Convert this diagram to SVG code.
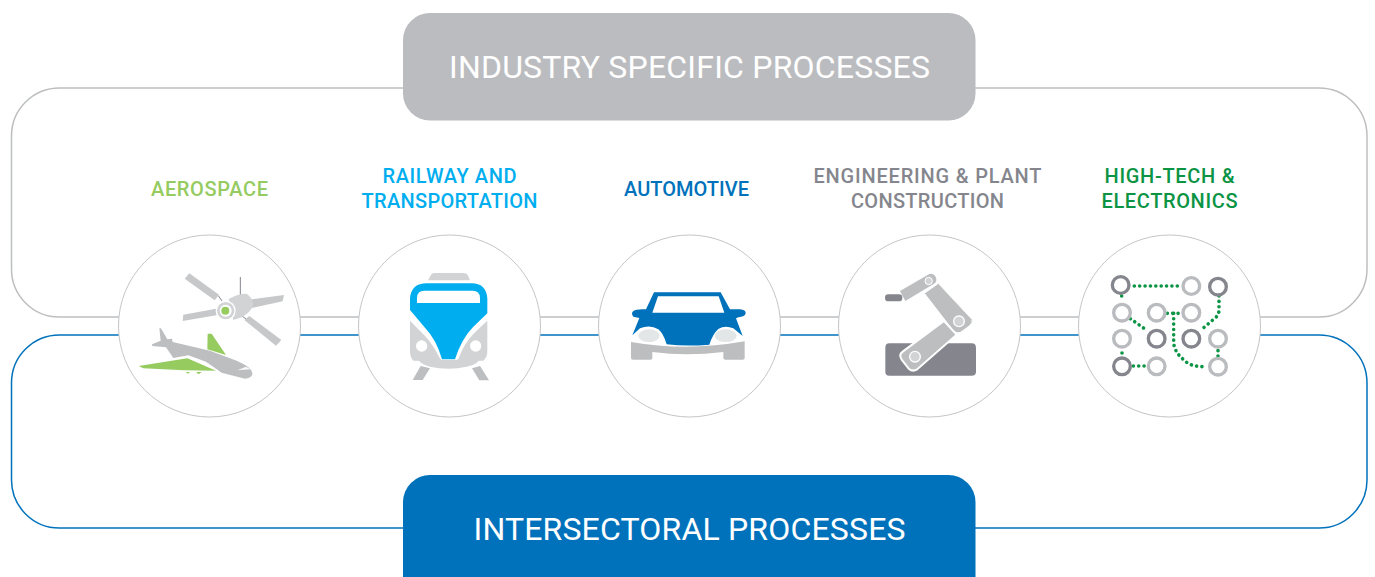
<svg xmlns="http://www.w3.org/2000/svg" width="1375" height="577" viewBox="0 0 1375 577">
<style>
.lbl{font-family:"Roboto","Liberation Sans",sans-serif;font-size:20px;text-anchor:middle;font-weight:500}
.ban{font-family:"Roboto","Liberation Sans",sans-serif;font-size:32px;fill:#fff;text-anchor:middle}
.ring{fill:#fff;stroke:#c4c5c7;stroke-width:1}
.lg{fill:#bcbec0}.pg{fill:#d1d3d4}.sp{fill:#c6c8ca}.dg{fill:#85868d}.gr{fill:#95cb5f}
.o1{fill:#fff;stroke:#b9bbbe;stroke-width:10}
.o2{fill:#fff;stroke:#85868d;stroke-width:10}
.dot{fill:none;stroke:#0b9444;stroke-width:10.800;stroke-linecap:round;stroke-dasharray:.1 16}
</style>
<rect width="1375" height="577" fill="#fff"/>
<g id="connectors" fill="none" stroke-width="1.5">
<rect x="11.500" y="88" width="1355.500" height="229" rx="48" stroke="#bcbec0"/>
<rect x="11.500" y="335" width="1355.500" height="193" rx="48" stroke="#0072bc"/>
</g>
<g id="banner-industry">
<rect x="403" y="13" width="572.500" height="107.500" rx="27" fill="#bbbcbf"/>
<text class="ban" x="689.500" y="77.500" textLength="481" lengthAdjust="spacing">INDUSTRY SPECIFIC PROCESSES</text>
</g>
<g id="banner-intersectoral">
<rect x="403" y="475" width="572.500" height="130" rx="27" fill="#0072bc"/>
<text class="ban" x="689.500" y="539.500" textLength="432" lengthAdjust="spacing">INTERSECTORAL PROCESSES</text>
</g>
<g id="aerospace">
<text class="lbl" x="209.500" y="195.500" fill="#95cb5f" textLength="117" lengthAdjust="spacing">AEROSPACE</text>
<circle class="ring" cx="209.500" cy="326" r="91"/>
<g transform="translate(110 230) scale(.33333)">
<path d="M391 141V196" stroke="#85868d" stroke-width="3" fill="none"/>
<path d="M325 197L336 213M388 228L412 225M388 252L408 267" stroke="#85868d" stroke-width="3" fill="none"/>
<path class="sp" d="M224 146L238 130L327 194L314 211Z"/>
<path class="sp" d="M408 210L522 195L518 214L412 237Z"/>
<path class="sp" d="M403 270L418 258L514 330L498 347Z"/>
<path class="sp" d="M220 254L318 236L323 255L218 273Z"/>
<path class="pg" d="M356 207Q385 190 410 191Q430 205 429 226Q425 245 395 262L370 270Z"/>
<circle cx="347" cy="242" r="30" fill="#fff"/>
<circle cx="347" cy="242" r="22" fill="#fff" stroke="#d1d3d4" stroke-width="8"/>
<circle class="gr" cx="346" cy="242" r="12"/>
<path class="gr" d="M293 311H305L348 375L292 358Z"/>
<path class="lg" d="M148 295L153 295L172 328L186 326L188 336L300 362L380 392Q408 405 415 412Q428 422 427 434Q422 445 405 446L335 428L288 395L235 376L190 384L168 352L127 348L126 343L152 332Z"/>
<path class="gr" d="M86 408L232 385L318 422L222 421L100 415Z"/>
<path class="gr" d="M227 426H240L234 431ZM258 426H275L266 433Z"/>
<path d="M382 421L422 418L408 410Z" fill="#fff" opacity=".9"/>
</g>
</g>
<g id="railway">
<text class="lbl" x="449.500" y="183" fill="#00aeef" textLength="134" lengthAdjust="spacing">RAILWAY AND</text>
<text class="lbl" x="449.500" y="208" fill="#00aeef" textLength="176" lengthAdjust="spacing">TRANSPORTATION</text>
<circle class="ring" cx="449.500" cy="326" r="91"/>
<g transform="translate(350 230) scale(.33333)">
<path class="pg" d="M234 151L244 133Q248 129 256 129H340Q350 129 353 135L360 151Z"/>
<path class="pg" d="M180 272L225 318Q250 345 268 382L275 392H190Q180 380 180 365Z"/>
<path class="pg" d="M412 272L370 312Q342 342 328 380L322 392H400Q412 380 412 365Z"/>
<path d="M180 240V205Q184 160 230 160H365Q408 160 412 205V250L370 290Q335 325 315 388H276Q260 330 225 293Z" fill="#00aeef"/>
<path d="M201 219V203Q202 182 222 182H368Q389 182 390 203V219Z" fill="#fff"/>
<circle cx="215" cy="348" r="17" fill="#fff"/><circle cx="377" cy="348" r="17" fill="#fff"/>
<path class="pg" d="M198 378Q296 402 394 378Q385 405 350 410Q296 422 240 410Q207 402 198 378Z"/>
<path class="lg" d="M212 408L240 415L218 450H188ZM366 415L390 408L417 451H388Z"/>
</g>
</g>
<g id="automotive">
<text class="lbl" x="686.500" y="195.500" fill="#0072bc" textLength="125" lengthAdjust="spacing">AUTOMOTIVE</text>
<circle class="ring" cx="689.500" cy="326" r="91"/>
<g transform="translate(590 230) scale(.33333)">
<path d="M192 187H392L420 238H450Q468 240 467 250Q466 261 445 262L438 265L458 318L430 295Q405 285 385 297Q368 312 358 344Q290 350 230 343Q220 310 205 298Q180 283 150 295L127 316L148 264L130 260Q122 250 130 243Q140 236 168 238Z" fill="#0072bc"/>
<path d="M204 199H386L403 248H187Z" fill="#fff"/>
<ellipse cx="177" cy="317" rx="32" ry="19" fill="#e3e6e6"/>
<ellipse cx="407" cy="317" rx="33" ry="19" fill="#e3e6e6"/>
<path class="lg" d="M123 336Q290 365 464 334V384Q464 389 458 389H406Q400 389 400 384V366Q290 380 187 366V384Q187 389 181 389H129Q123 389 123 384Z"/>
</g>
</g>
<g id="engineering">
<text class="lbl" x="927.500" y="183" fill="#85868d" textLength="228" lengthAdjust="spacing">ENGINEERING &amp; PLANT</text>
<text class="lbl" x="927.500" y="208" fill="#85868d" textLength="153" lengthAdjust="spacing">CONSTRUCTION</text>
<circle class="ring" cx="929.500" cy="326" r="91"/>
<g transform="translate(830 230) scale(.33333)">
<path class="dg" d="M178 340H425Q438 340 438 353V425Q438 437 425 437H178Q166 437 166 425V353Q166 340 178 340Z"/>
<rect class="dg" x="165" y="193" width="52" height="21" rx="10"/>
<path class="lg" d="M210 183L298 132Q310 128 317 140Q323 155 312 161L226 213Z"/>
<path class="lg" d="M283 190L325 160L426 268Q430 278 418 288L390 308Q378 312 368 300Z" stroke="#fff" stroke-width="3"/>
<path class="lg" d="M342 273L380 314L260 419Q248 426 236 416L215 389Q205 375 218 365Z" stroke="#fff" stroke-width="6"/>
<circle cx="296" cy="153" r="11" class="pg" stroke="#fff" stroke-width="3"/>
<circle cx="387" cy="274" r="16" class="pg" stroke="#fff" stroke-width="4"/>
<circle cx="255" cy="380" r="16" class="pg" stroke="#fff" stroke-width="4"/>
</g>
</g>
<g id="hightech">
<text class="lbl" x="1169.500" y="183" fill="#0b9444" textLength="130" lengthAdjust="spacing">HIGH-TECH &amp;</text>
<text class="lbl" x="1169.500" y="208" fill="#0b9444" textLength="136" lengthAdjust="spacing">ELECTRONICS</text>
<circle class="ring" cx="1169.500" cy="326" r="91"/>
<g transform="translate(1070 230) scale(.33333)">
<path class="dot" d="M193 168H335"/>
<path class="dot" d="M155 198V214"/>
<path class="dot" d="M181 266L232 302"/>
<path class="dot" d="M447 198V240Q447 256 432 267L390 302"/>
<path class="dot" d="M292 250H326"/>
<path class="dot" d="M311 250V340Q315 370 345 392Q360 410 405 410"/>
<path class="dot" d="M444 362V380"/>
<path class="dot" d="M156 369V372"/>
<path class="dot" d="M190 408H226"/>
<circle class="o2" cx="152" cy="165" r="25"/>
<circle class="o1" cx="364" cy="168" r="25"/>
<circle class="o2" cx="444" cy="170" r="25"/>
<circle class="o1" cx="156" cy="248" r="25"/>
<circle class="o1" cx="260" cy="248" r="25"/>
<circle class="o1" cx="364" cy="248" r="25"/>
<circle class="o1" cx="156" cy="326" r="25"/>
<circle class="o2" cx="260" cy="326" r="25"/>
<circle class="o2" cx="364" cy="326" r="25"/>
<circle class="o1" cx="444" cy="326" r="25"/>
<circle class="o2" cx="156" cy="409" r="25"/>
<circle class="o1" cx="260" cy="409" r="25"/>
<circle class="o1" cx="444" cy="410" r="25"/>
</g>
</g>
</svg>
